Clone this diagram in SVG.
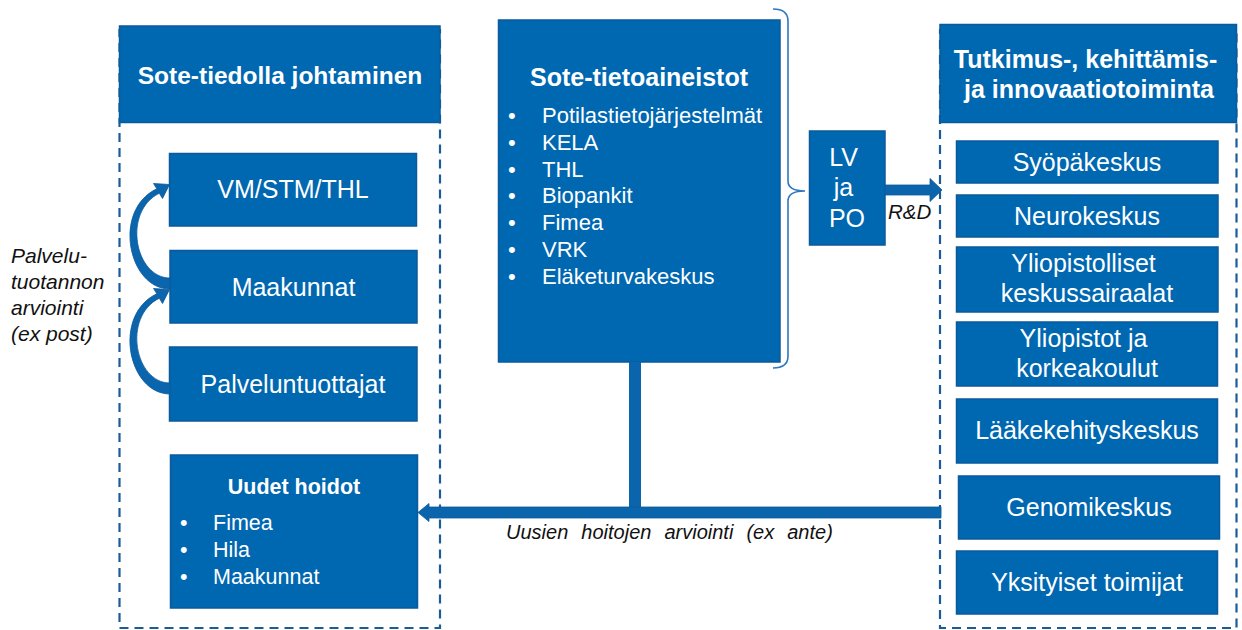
<svg xmlns="http://www.w3.org/2000/svg" width="1242" height="630" viewBox="0 0 1242 630">
<style>
.box{fill:#0067B1;stroke:#0B5A9C;stroke-width:1.5}
.dash{fill:none;stroke:#1B5C98;stroke-width:2.2;stroke-dasharray:9 6}
.t{font-family:"Liberation Sans",Arial,sans-serif;fill:#fff}
.b{font-weight:bold}
.lbl{font-family:"Liberation Sans",Arial,sans-serif;font-style:italic;fill:#111}
.arr{fill:#0B65AC;stroke:#0B5A9C;stroke-width:0.8}
</style>
<rect width="1242" height="630" fill="#fff"/>

<g id="left-container">
  <rect class="dash" x="119.5" y="30" width="320.5" height="598"/>
  <rect class="box" x="119.5" y="26" width="320.5" height="96.5"/>
  <text class="t b" x="280" y="84" font-size="24.5" text-anchor="middle">Sote-tiedolla johtaminen</text>
</g>
<g id="vm">
  <rect class="box" x="169.5" y="153.5" width="247" height="72.5"/>
  <text class="t" x="293" y="198" font-size="25" text-anchor="middle">VM/STM/THL</text>
</g>
<g id="maakunnat">
  <rect class="box" x="170" y="250.5" width="247" height="72.5"/>
  <text class="t" x="293.5" y="296" font-size="25" text-anchor="middle">Maakunnat</text>
</g>
<g id="palveluntuottajat">
  <rect class="box" x="169.5" y="347" width="247.5" height="74"/>
  <text class="t" x="293" y="393" font-size="25" text-anchor="middle">Palveluntuottajat</text>
</g>
<g id="uudet-hoidot">
  <rect class="box" x="170.5" y="455" width="247" height="153"/>
  <text class="t b" x="294" y="494" font-size="21.5" text-anchor="middle">Uudet hoidot</text>
  <text class="t" font-size="21.5">
    <tspan x="180" y="530">•</tspan><tspan x="213" y="530">Fimea</tspan>
    <tspan x="180" y="557">•</tspan><tspan x="213" y="557">Hila</tspan>
    <tspan x="180" y="584">•</tspan><tspan x="213" y="584">Maakunnat</tspan>
  </text>
</g>
<g id="palvelutuotannon-label">
  <text class="lbl" font-size="21">
    <tspan x="11" y="263">Palvelu-</tspan>
    <tspan x="11" y="289">tuotannon</tspan>
    <tspan x="11" y="315">arviointi</tspan>
    <tspan x="11" y="341">(ex post)</tspan>
  </text>
</g>

<g id="sote-tietoaineistot">
  <rect class="box" x="498.5" y="20" width="281.5" height="342"/>
  <text class="t b" x="639" y="86" font-size="25" text-anchor="middle">Sote-tietoaineistot</text>
  <text class="t" font-size="22">
    <tspan x="508" y="123">•</tspan><tspan x="542" y="123">Potilastietojärjestelmät</tspan>
    <tspan x="508" y="149.8">•</tspan><tspan x="542" y="149.8">KELA</tspan>
    <tspan x="508" y="176.6">•</tspan><tspan x="542" y="176.6">THL</tspan>
    <tspan x="508" y="203.4">•</tspan><tspan x="542" y="203.4">Biopankit</tspan>
    <tspan x="508" y="230.2">•</tspan><tspan x="542" y="230.2">Fimea</tspan>
    <tspan x="508" y="257">•</tspan><tspan x="542" y="257">VRK</tspan>
    <tspan x="508" y="283.8">•</tspan><tspan x="542" y="283.8">Eläketurvakeskus</tspan>
  </text>
</g>
<g id="brace">
  <path d="M773,9 Q788,9 788,21 L788,181 Q788,191 805,191 Q788,191 788,201 L788,356 Q788,368 773,368" fill="none" stroke="#2E78BD" stroke-width="1.6"/>
</g>
<g id="lv-ja-po">
  <rect class="box" x="809.5" y="131" width="75.5" height="114"/>
  <text class="t" font-size="25" text-anchor="middle">
    <tspan x="847" y="166">LV</tspan>
    <tspan x="847" y="196">ja</tspan>
    <tspan x="847" y="227">PO</tspan>
  </text>
</g>

<g id="right-container">
  <rect class="dash" x="940" y="30" width="296.5" height="598"/>
  <rect class="box" x="940" y="24.5" width="296.5" height="98"/>
  <text class="t b" font-size="25" text-anchor="middle">
    <tspan x="1089" y="68">Tutkimus-, kehittämis-</tspan>
    <tspan x="1089" y="98">ja innovaatiotoiminta</tspan>
  </text>
</g>
<g id="syopakeskus">
  <rect class="box" x="956.5" y="141" width="261.5" height="42"/>
  <text class="t" x="1087" y="171" font-size="25" text-anchor="middle">Syöpäkeskus</text>
</g>
<g id="neurokeskus">
  <rect class="box" x="956.5" y="195" width="261.5" height="42"/>
  <text class="t" x="1087" y="225" font-size="25" text-anchor="middle">Neurokeskus</text>
</g>
<g id="yliopistolliset">
  <rect class="box" x="956.5" y="247" width="261.5" height="65"/>
  <text class="t" font-size="25" text-anchor="middle">
    <tspan x="1087" y="272">Yliopistolliset</tspan>
    <tspan x="1087" y="302">keskussairaalat</tspan>
  </text>
</g>
<g id="yliopistot">
  <rect class="box" x="956.5" y="322" width="261" height="64"/>
  <text class="t" font-size="25" text-anchor="middle">
    <tspan x="1087" y="347">Yliopistot ja</tspan>
    <tspan x="1087" y="377">korkeakoulut</tspan>
  </text>
</g>
<g id="laakekehityskeskus">
  <rect class="box" x="956.5" y="399" width="261" height="64"/>
  <text class="t" x="1087" y="439" font-size="25" text-anchor="middle">Lääkekehityskeskus</text>
</g>
<g id="genomikeskus">
  <rect class="box" x="958.5" y="476" width="261" height="63"/>
  <text class="t" x="1089" y="516" font-size="25" text-anchor="middle">Genomikeskus</text>
</g>
<g id="yksityiset">
  <rect class="box" x="956.5" y="551" width="261" height="63"/>
  <text class="t" x="1087" y="591" font-size="25" text-anchor="middle">Yksityiset toimijat</text>
</g>

<g id="connectors">
  <!-- curved arrow Maakunnat -> VM/STM/THL -->
  <path class="arr" d="M170,289 C128,289 112,210 156.8,188.8 L153.5,183.5 L169.5,184.5 L162.5,198.5 L159.3,193.2 C122,212 135,278 170,278 Z"/>
  <!-- curved arrow Palveluntuottajat -> Maakunnat -->
  <path class="arr" d="M170,394 C128,394 112,315 156.8,293.8 L153.5,288.5 L169.5,289.5 L162.5,303.5 L159.3,298.2 C122,317 135,383 170,383 Z"/>
  <!-- R&D arrow -->
  <path class="arr" d="M885,185 L930,185 L930,178.5 L942,190 L930,201.5 L930,195 L885,195 Z"/>
  <!-- stem from Sote-tietoaineistot -->
  <rect x="629" y="362" width="12" height="148" fill="#0B65AC"/>
  <!-- bottom arrow to Uudet hoidot -->
  <path class="arr" d="M941,507 L429,507 L429,503.5 L418,512.5 L429,521.5 L429,518 L941,518 Z"/>
  <text class="lbl" x="888" y="219" font-size="20.5">R&amp;D</text>
  <text class="lbl" x="506" y="539" font-size="20" word-spacing="7.5">Uusien hoitojen arviointi (ex ante)</text>
</g>
</svg>
